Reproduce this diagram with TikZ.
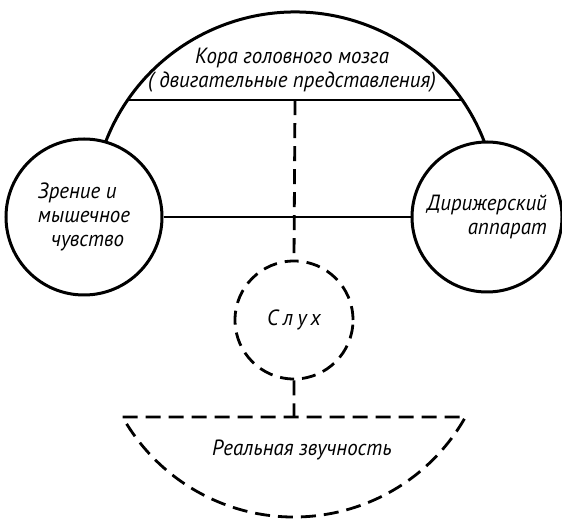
\documentclass[tikz,border=0pt]{standalone}
\usepackage{fontspec}
\setmainfont{PT Sans}
\usetikzlibrary{calc}

\begin{document}
\begin{tikzpicture}[x=1pt,y=1pt,
                organ/.style={circle,draw,line width=3pt,minimum size=#1,inner sep=0pt},
                hearing/.style={circle,draw,line width=2.8pt,dash pattern=on 14pt off 8pt,minimum size=#1,inner sep=0pt},
                dashline/.style={line width=2.8pt,dash pattern=on 15pt off 8pt},
                lbl/.style={font=\itshape\fontsize{22}{24}\selectfont\addfontfeature{FakeStretch=0.95}}]
                \useasboundingbox (0,0) rectangle (562,519);
                \coordinate (cortexC) at (295,304);
                \node[organ=156pt,lbl,align=left] (vision) at (84,302) {Зрение и\\мышечное\\\hspace{0.6em}чувство};
                \node[organ=150pt,lbl,align=right] (conductor) at (487,302) {Дирижерский\\аппарат};
                \node[hearing=118pt,lbl] (ear) at (294,199) {\addfontfeature{LetterSpace=20}Слух};
                \draw[line width=3pt] ($(cortexC)+(159:203)$) arc[start angle=159,end angle=21,radius=203];
                \coordinate (chL) at ($(cortexC)+(145.5:203)$);
                \coordinate (chR) at ($(cortexC)+(34.5:203)$);
                \coordinate (chM) at ($(chL)!0.5!(chR)$);
                \draw[line width=2pt] (chL) -- (chR);
                \node[lbl,align=center] (cortex) at (292,449) {Кора головного мозга\\( двигательные представления)};
                \draw[line width=2pt] (vision) -- (conductor);
                \draw[dashline] (chM) -- (ear.north);
                \coordinate (sndL) at ($(ear.center)+(209.5:197)$);
                \coordinate (sndR) at ($(ear.center)+(-29.5:197)$);
                \coordinate (sndM) at ($(sndL)!0.5!(sndR)$);
                \draw[dashline] (sndL) -- (sndR) arc[start angle=-29.5,end angle=-150.5,radius=197] -- cycle;
                \draw[dashline] (ear.south) -- (sndM);
                \node[lbl] (sound) at (302,69) {Реальная звучность};
\end{tikzpicture}
\end{document}
